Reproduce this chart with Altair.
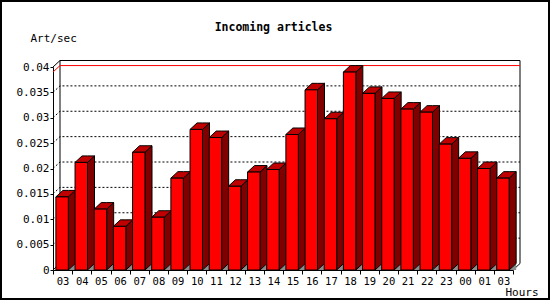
import altair as alt
import pandas as pd

# ---------------- data ----------------
hours = ["03", "04", "05", "06", "07", "08", "09", "10", "11", "12", "13", "14",
         "15", "16", "17", "18", "19", "20", "21", "22", "23", "00", "01", "03"]
rates = [0.0144, 0.0212, 0.0120, 0.0086, 0.0232, 0.0104, 0.0181, 0.0277,
         0.0261, 0.0165, 0.0193, 0.0198, 0.0267, 0.0355, 0.0298, 0.0390,
         0.0348, 0.0338, 0.0317, 0.0311, 0.0248, 0.0220, 0.0200, 0.0181]
y_ticks = [0, 0.005, 0.01, 0.015, 0.02, 0.025, 0.03, 0.035, 0.04]
grid_levels = [0.005, 0.01, 0.015, 0.02, 0.025, 0.03, 0.035]
title_text = ["Incoming articles"]
y_title = "Art/sec"
x_title = "Hours"

# ---------------- geometry / style ----------------
W, H = 460, 203
YMAX = 0.04
N = len(hours)
DX = 7 / (W / N)          # 3D depth, x units
DY = 6.5 / H * YMAX       # 3D depth, y units
F0, F1 = 0.15, 0.80       # front face within each slot
FONT = "DejaVu Sans Mono"
FRONT, TOP, SIDE, SHADOW = "#ff0000", "#c00000", "#800000", "#8c8c8c"

xs = alt.Scale(domain=[0, N], nice=False, zero=False)
ys = alt.Scale(domain=[0, YMAX], nice=False, zero=False)

hours_js = "[" + ",".join("'%s'" % h for h in hours) + "]"
ax_x = alt.Axis(values=list(range(N + 1)),
                labelExpr=f"datum.value < {N} ? {hours_js}[datum.value] : ''",
                labelOffset=W / N / 2, labelFlush=False, labelOverlap=False,
                tickSize=4, tickColor="black", domainColor="black",
                labelFont=FONT, labelFontSize=10.5, labelColor="black", labelPadding=2,
                grid=False, title=x_title, titleX=452, titleY=25, titleAlign="left",
                titleBaseline="alphabetic", titleAngle=0, titleFont=FONT,
                titleFontSize=11, titleFontWeight="normal", titleColor="black")
ax_y = alt.Axis(values=y_ticks, format="~g", labelFlush=False, labelOverlap=False,
                tickSize=3, tickColor="black", domainColor="black",
                labelFont=FONT, labelFontSize=11, labelColor="black", labelPadding=1,
                grid=False, title=y_title, titleX=-23, titleY=-26, titleAlign="left",
                titleBaseline="alphabetic", titleAngle=0, titleFont=FONT,
                titleFontSize=11, titleFontWeight="normal", titleColor="black")


def X(f="x"):
    return alt.X(f"{f}:Q", scale=xs, axis=ax_x)


def Y(f="y"):
    return alt.Y(f"{f}:Q", scale=ys, axis=ax_y, stack=None)


# back frame (path)
frame_pts = [(0, 0), (DX, DY), (DX, YMAX + DY), (N + DX, YMAX + DY), (N + DX, DY), (N, 0)]
frame_df = pd.DataFrame([{"seg": 0, "o": k, "x": p[0], "y": p[1]} for k, p in enumerate(frame_pts)]
                        + [{"seg": 1, "o": 0, "x": 0, "y": YMAX}, {"seg": 1, "o": 1, "x": DX, "y": YMAX + DY}])
frame = alt.Chart(frame_df).mark_line(color="black", strokeWidth=1).encode(
    x=X(), y=Y(), detail="seg:N", order="o:Q")

# dotted grid on back plane
g_rows = []
for v in grid_levels:
    g_rows += [{"lvl": v, "o": 0, "x": 0, "y": v},
               {"lvl": v, "o": 1, "x": DX, "y": v + DY},
               {"lvl": v, "o": 2, "x": N + DX, "y": v + DY}]
grid = alt.Chart(pd.DataFrame(g_rows)).mark_line(color="black", strokeWidth=1, strokeDash=[2, 2]).encode(
    x=X(), y=Y(), detail="lvl:N", order="o:Q")

# red max line
mx = max(rates)
max_df = pd.DataFrame([{"o": 0, "x": 0, "y": mx}, {"o": 1, "x": DX, "y": mx + DY},
                       {"o": 2, "x": N + DX, "y": mx + DY}])
maxline = alt.Chart(max_df).mark_line(color="#ff0000", strokeWidth=1).encode(
    x=X(), y=Y(), order="o:Q")

sh_rows, side_rows, top_rows, front_rows = [], [], [], []
for i, v in enumerate(rates):
    a, b = i + F0, i + F1
    sh_rows += [{"bar": i, "x": b, "y": 0, "y2": 0}, {"bar": i, "x": b + DX, "y": 0, "y2": DY}]
    side_rows += [{"bar": i, "x": b, "y": 0, "y2": v}, {"bar": i, "x": b + DX, "y": DY, "y2": v + DY}]
    top_rows += [{"bar": i, "x": a, "y": v, "y2": v},
                 {"bar": i, "x": a + DX, "y": v, "y2": v + DY},
                 {"bar": i, "x": b, "y": v, "y2": v + DY},
                 {"bar": i, "x": b + DX, "y": v + DY, "y2": v + DY}]
    front_rows.append({"bar": i, "hour": hours[i], "x": a, "x2": b, "y": 0, "y2": v})

shadow = alt.Chart(pd.DataFrame(sh_rows)).mark_area(color=SHADOW, strokeWidth=0).encode(
    x=X(), y=Y(), y2="y2:Q", detail="bar:N")
side = alt.Chart(pd.DataFrame(side_rows)).mark_area(fill=SIDE, stroke="black", strokeWidth=1).encode(
    x=X(), y=Y(), y2="y2:Q", detail="bar:N")
top = alt.Chart(pd.DataFrame(top_rows)).mark_area(fill=TOP, stroke="black", strokeWidth=1).encode(
    x=X(), y=Y(), y2="y2:Q", detail="bar:N")
front = alt.Chart(pd.DataFrame(front_rows)).mark_rect(fill=FRONT, stroke="black", strokeWidth=1).encode(
    x=X(), x2="x2:Q", y=Y(), y2="y2:Q")

title = alt.Chart(pd.DataFrame({"t": title_text})).mark_text(
    font=FONT, fontSize=11.5, fontWeight="bold", align="center", baseline="alphabetic", color="black"
).encode(text="t:N", x=alt.value(220.5), y=alt.value(-36))

border = alt.Chart(pd.DataFrame({"b": [0]})).mark_rect(filled=False, stroke="black", strokeWidth=2).encode(
    x=alt.value(-52), x2=alt.value(496), y=alt.value(-66), y2=alt.value(232))

chart = alt.layer(border, frame, grid, maxline, shadow, side, top, front, title).properties(
    width=W, height=H,
    padding={"left": 53, "top": 67, "right": 37, "bottom": 30},
    autosize=alt.AutoSizeParams(type="none"),
    background="white",
).configure_view(stroke=None)

chart.save("out.html", embed_options={"renderer": "svg", "actions": False})
